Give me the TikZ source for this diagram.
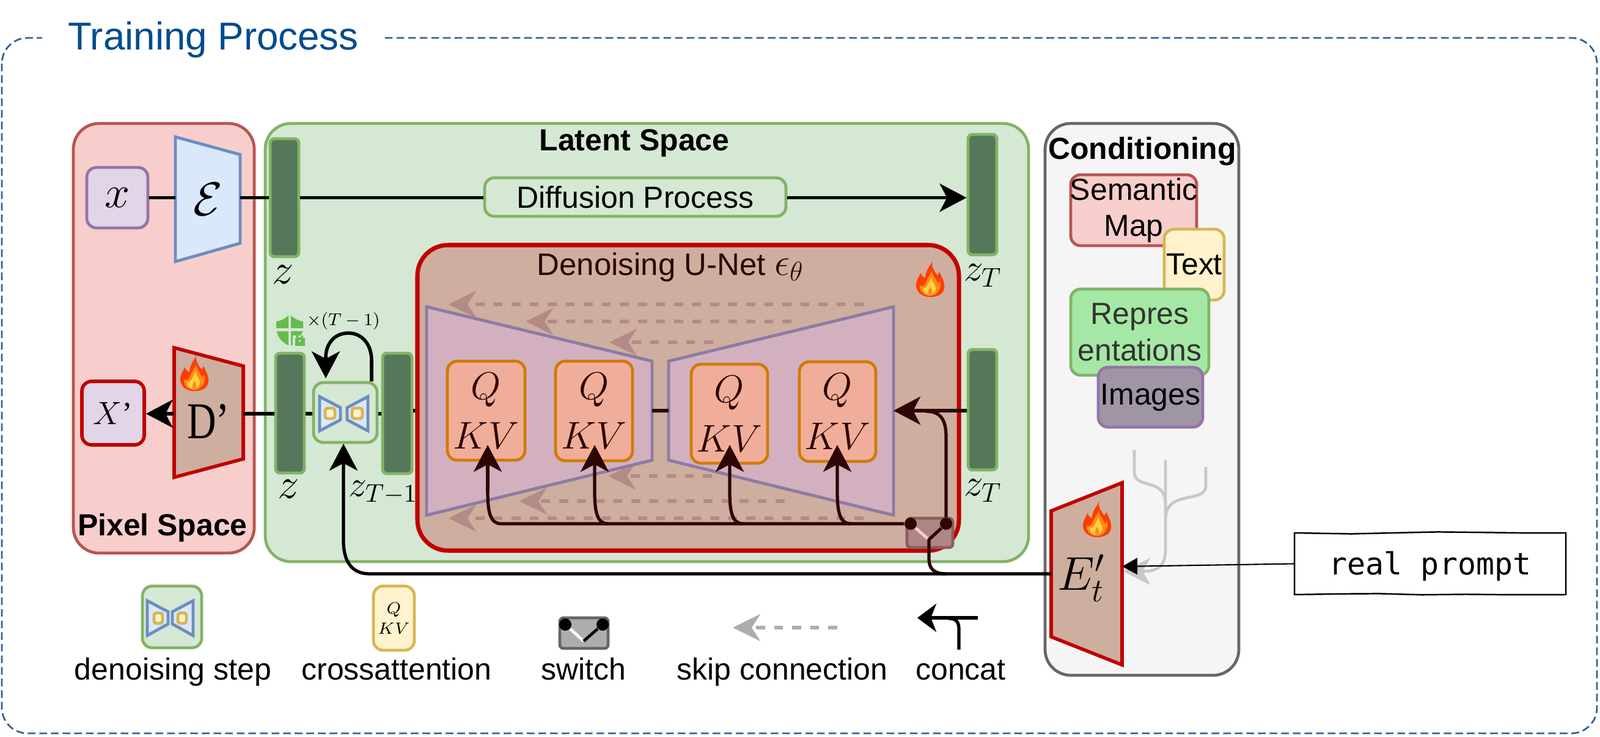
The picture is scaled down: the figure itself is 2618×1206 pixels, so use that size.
\documentclass[tikz,border=0pt]{standalone}
\usepackage{fix-cm}
\usepackage[no-math]{fontspec}
\setmainfont{Liberation Sans}
\newfontfamily\seriffont{Liberation Serif}
\newfontfamily\promptfont{DejaVu Sans Mono}
\usetikzlibrary{arrows.meta,positioning,calc,fit,decorations.pathmorphing}
\definecolor{framecol}{HTML}{2F6299}
\definecolor{titlecol}{HTML}{004C8C}
\definecolor{pixfill}{HTML}{F8CECC}
\definecolor{pixline}{HTML}{B85450}
\definecolor{latfill}{HTML}{D5E8D4}
\definecolor{latline}{HTML}{82B366}
\definecolor{barfill}{HTML}{56785A}
\definecolor{hotline}{HTML}{C00000}
\definecolor{hotfill}{HTML}{CDAE9F}
\definecolor{encfill}{HTML}{DAE8FC}
\definecolor{encline}{HTML}{6C8EBF}
\definecolor{purfill}{HTML}{E1D5E7}
\definecolor{purline}{HTML}{9673A6}
\definecolor{trapfill}{HTML}{D2B0BF}
\definecolor{trapline}{HTML}{8C7BA3}
\definecolor{qkvfill}{HTML}{F0AE9A}
\definecolor{qkvline}{HTML}{D07A00}
\definecolor{yelfill}{HTML}{FFF2CC}
\definecolor{yelline}{HTML}{D6B656}
\definecolor{skipcol}{HTML}{B48A88}
\definecolor{darkbus}{HTML}{2E0505}
\definecolor{swfill}{HTML}{B08585}
\definecolor{swline}{HTML}{8A5E5E}
\definecolor{swpale}{HTML}{F3CFCF}
\definecolor{condfill}{HTML}{F5F5F5}
\definecolor{condline}{HTML}{666666}
\definecolor{repfill}{HTML}{A5E8A5}
\definecolor{imgfill}{HTML}{A095A5}
\definecolor{shieldcol}{HTML}{66BB50}
\definecolor{graycol}{HTML}{C8C8C8}
\definecolor{skipgray}{HTML}{ADADAD}
\definecolor{flameout}{HTML}{FF3D00}
\definecolor{flamemid}{HTML}{FF8A1E}
\definecolor{flamein}{HTML}{FFD23F}
\newcommand{\fsz}[1]{\fontsize{#1}{17}\selectfont}
\tikzset{
	panel/.style={draw,line width=1.35pt,rounded corners=0.42cm,inner sep=0pt},
	tile/.style={draw,line width=1.35pt,rounded corners=0.16cm,inner sep=0pt},
	latentbar/.style={draw=latline,fill=barfill,line width=1.4pt,rounded corners=0.07cm,inner sep=0pt},
	qkvbox/.style={tile,draw=qkvline,fill=qkvfill},
	qkvtxt/.style={align=center,text=darkbus,font=\fontsize{18}{23}\selectfont},
	flow/.style={line width=1.5pt},
	bigtip/.style={-{Stealth[length=4.4mm,width=4.6mm,inset=1.2mm]}},
	bus/.style={line width=1.5pt,color=darkbus},
	skiparrow/.style={line width=1.6pt,color=skipcol,dash pattern=on 4.2pt off 4.2pt,-{Stealth[length=4.5mm,width=4.4mm,inset=1.4mm]}},
	swdot/.style={circle,fill,inner sep=0pt,minimum size=0.2cm},
	lbl/.style={font=\fsz{14.2},anchor=base},
	head/.style={font=\fsz{14.2}\bfseries},
	plain/.style={font=\fsz{14.2},align=center},
	fire/.pic={
		\fill[flameout] (0,29) .. controls (-16,29) and (-24,18) .. (-23,8) .. controls (-22,0) and (-18,-4) .. (-16,-10) .. controls (-13,-5) and (-11,-3) .. (-8,-2) .. controls (-8,-14) and (0,-22) .. (3,-29) .. controls (2,-18) and (8,-12) .. (12,-6) .. controls (13,-8) and (14,-10) .. (15,-12) .. controls (20,-2) and (24,6) .. (23,14) .. controls (22,24) and (12,29) .. (0,29) -- cycle;
		\fill[flamemid] (0,27) .. controls (-11,27) and (-18,19) .. (-17,10) .. controls (-13,13) and (-10,10) .. (-7,5) .. controls (-5,-2) and (0,-8) .. (3,-14) .. controls (4,-6) and (10,0) .. (13,7) .. controls (15,2) and (16,2) .. (17,4) .. controls (19,14) and (12,27) .. (0,27) -- cycle;
		\fill[flamein] (-1,25) .. controls (-8,25) and (-13,20) .. (-11,13) .. controls (-8,15) and (-5,12) .. (-3,7) .. controls (-1,3) and (1,0) .. (2,-3) .. controls (3,4) and (8,8) .. (9,14) .. controls (10,20) and (5,25) .. (-1,25) -- cycle;
		\fill[flamemid] (0,25) .. controls (-5,25) and (-4,19) .. (0,12) .. controls (4,19) and (5,25) .. (0,25) -- cycle;
	},
}
\begin{document}
\begin{tikzpicture}[x=0.01cm,y=-0.01cm]
	\useasboundingbox (0,0) rectangle (2618,1206);
	
	% outer frame
	\draw[framecol,line width=0.8pt,dash pattern=on 3.6pt off 1.8pt,rounded corners=0.42cm] (3,62) rectangle (2613,1200);
	\node[fill=white,minimum width=5.6cm,minimum height=0.9cm,inner sep=0pt] (titlebg) at (349,62) {};
	\node[text=titlecol,font=\fsz{18.1}] (title) at (349,65) {Training Process};
	
	% spaces
	\node[panel,draw=pixline,fill=pixfill,fit={(120,202)(416,905)}] (pixel) {};
	\node[panel,draw=latline,fill=latfill,fit={(434,202)(1683,919)}] (latent) {};
	\node[panel,draw=condline,fill=condfill,fit={(1710,202)(2027,1105)}] (cond) {};
	\node[head] (pixeltxt) at (266,864) {Pixel Space};
	\node[head] (latenttxt) at (1038,234) {Latent Space};
	\node[head] (condtxt) at (1869,248) {Conditioning};
	
	% encoder row
	\node[tile,draw=purline,fill=purfill,fit={(142,274)(242,373)}] (xin) {};
	\node[font=\fsz{21}] (xtxt) at (xin) {$x$};
	\filldraw[draw=encline,fill=encfill,line width=1.4pt] (287,224)--(393,253)--(393,398)--(287,428)--cycle;
	\node[font=\fsz{22}] (enc) at (340,326) {$\mathcal{E}$};
	\coordinate (encl) at (287,323.5);
	\coordinate (encr) at (393,323.5);
	\node[latentbar,fit={(442,227)(489,420)}] (ztop) {};
	\node[font=\fsz{20}] (ztoptxt) at (463,449) {$z$};
	\node[tile,draw=latline,fill=latfill,fit={(793,291)(1286,354)}] (diff) {};
	\node[plain] (difftxt) at (diff) {Diffusion Process};
	\node[latentbar,fit={(1584,220)(1631,417)}] (ztend) {};
	\node[font=\fsz{18}] (ztendtxt) at (1608,451) {$z_T$};
	\draw[flow] (xin.east |- encl) -- (encl);
	\draw[flow] (encr) -- (ztop.west |- encr);
	\draw[flow] (ztop.east |- encr) -- (diff.west |- encr);
	\draw[flow,bigtip] (diff.east |- encr) -- (ztend.west |- encr);
	
	% decoder row
	\node[tile,draw=hotline,line width=1.6pt,fill=purfill,fit={(134,624)(236,728)}] (xout) {};
	\node[font=\fsz{15}] (xouttxt) at (xout) {$X$\seriffont ’};
	\filldraw[draw=hotline,fill=hotfill,line width=1.6pt] (285,569)--(398,599)--(398,751)--(285,781)--cycle;
	\node[font=\fsz{24},inner sep=0pt] (dec) at (341,690) {\seriffont\scalebox{0.78}[1]{D’}};
	\pic at (318,611) {fire};
	\coordinate (decl) at (285,677);
	\coordinate (decr) at (398,677);
	\node[latentbar,fit={(451,578)(498,774)}] (zlow) {};
	\node[font=\fsz{20}] (zlowtxt) at (472,800) {$z$};
	\node[tile,draw=latline,fill=latfill,fit={(513,626)(617,724)}] (step) {};
	\node[latentbar,fit={(626,578)(674,775)}] (zprev) {};
	\node[font=\fsz{17}] (zprevtxt) at (627,806) {$z_{T-1}$};
	\filldraw[draw=encline,fill=encfill,line width=1.4pt] (523,649)--(557,667)--(557,687)--(523,705)--cycle;
	\filldraw[draw=encline,fill=encfill,line width=1.4pt] (602,649)--(568,667)--(568,687)--(602,705)--cycle;
	\filldraw[draw=yelline,fill=yelfill,line width=1.4pt,rounded corners=0.04cm] (532,668) rectangle (548,685);
	\filldraw[draw=yelline,fill=yelfill,line width=1.4pt,rounded corners=0.04cm] (576,668) rectangle (593,685);
	\draw[flow,bigtip] (decl) -- (xout.east |- decl);
	\draw[flow] (decr) -- (zlow.west |- decr);
	\draw[flow] (zlow.east |- decr) -- (step.west |- decr);
	\draw[flow] (step.east |- decr) -- (zprev.west |- decr);
	\coordinate (loopa) at (608,624);
	\coordinate (loopb) at (533,619);
	\draw[flow,line width=1.6pt,bigtip] (loopa) -- (608,590) .. controls (608,563) and (592,545) .. (570,545) .. controls (547,545) and (533,563) .. (533,585) -- (loopb);
	
	% shield with lock
	\fill[shieldcol] (452,526) .. controls (460,525) and (467,521) .. (472,516) -- (472,537) -- (452,537) -- cycle;
	\fill[shieldcol] (476,516) .. controls (481,521) and (488,525) .. (496,526) -- (496,537) -- (476,537) -- cycle;
	\fill[shieldcol] (453,542) -- (472,542) -- (472,565) .. controls (462,561) and (455,553) .. (453,542) -- cycle;
	\fill[shieldcol] (476,542) -- (496,542) -- (482,565) -- (476,565) -- cycle;
	\draw[latfill,line width=2.4pt] (483,553) rectangle (498,565);
	\filldraw[shieldcol,line width=0pt] (483,553) rectangle (498,565);
	\draw[shieldcol,line width=0.8pt] (486,553) -- (486,549) arc[start angle=180,end angle=0,x radius=4.5,y radius=5];
	\fill[latfill] (490.5,558) circle (1.8);
	\node[font=\fsz{8}] (looptxt) at (562,525) {$\times(T-1)$};
	
	% U-Net
	\coordinate (unetin) at (698,672);
	\draw[flow] (zprev.east |- unetin) -- (unetin);
	\node[panel,draw=hotline,fill=hotfill,line width=2pt,rounded corners=0.5cm,fit={(683,401)(1569,901)}] (unet) {};
	\node[font=\fsz{14.5},text=darkbus] (unettxt) at (1097,437) {Denoising U-Net {\fsz{18}$\epsilon_\theta$}};
	\pic at (1522,457) {fire};
	\foreach \n/\xa/\xb/\ya in {ska/734/1413/498,skb/860/1295/526,skc/997/1167/560,skd/995/1165/779,ske/850/1284/820,skf/734/1413/848}{
		\coordinate (\n t) at (\xa,\ya);
		\coordinate (\n s) at (\xb,\ya);
		\draw[skiparrow] (\n s) -- (\n t);
	}
	\filldraw[draw=trapline,fill=trapfill,line width=1.4pt] (698,502)--(1067,591)--(1067,753)--(698,843)--cycle;
	\filldraw[draw=trapline,fill=trapfill,line width=1.4pt] (1462,502)--(1094,591)--(1094,753)--(1462,843)--cycle;
	\coordinate (trapa) at (1067,672);
	\coordinate (trapb) at (1094,672);
	\coordinate (trapc) at (1462,672);
	\draw[bus] (trapa) -- (trapb);
	\node[qkvbox,fit={(732,591)(859,753)}] (qkva) {};
	\node[qkvbox,fit={(909,591)(1035,754)}] (qkvb) {};
	\node[qkvbox,fit={(1131,596)(1256,758)}] (qkvc) {};
	\node[qkvbox,fit={(1308,592)(1433,755)}] (qkvd) {};
	\foreach \n in {a,b,c,d}{
		\node[qkvtxt] (qkv\n txt) at (qkv\n) {$Q$\\$KV$};
	}
	
	% lower right bar and switch
	\node[latentbar,fit={(1584,572)(1631,769)}] (ztin) {};
	\node[font=\fsz{18}] (ztintxt) at (1608,803) {$z_T$};
	\node[draw=swline,fill=swfill,line width=1.35pt,rounded corners=0.06cm,inner sep=0pt,fit={(1484,848)(1559,896)}] (sw) {};
	\node[swdot,darkbus] (swa) at (1490,857) {};
	\node[swdot,darkbus] (swb) at (1548,857) {};
	\coordinate (swc) at (1520,883);
	\draw[swpale,line width=1.35pt] (swa) -- (swc);
	\draw[bus,bigtip] (ztin.west |- trapc) -- (trapc);
	\draw[bus] (swb) -- (1548,715) .. controls (1548,688) and (1540,673) .. (1515,673);
	\draw[bus] (swa) -- (820,857) .. controls (803,857) and (798,840) .. (798,805);
	\coordinate (tipa) at (798,728);
	\coordinate (tipb) at (973,728);
	\coordinate (tipc) at (1194,728);
	\coordinate (tipd) at (1370,728);
	\draw[bus,bigtip] (798,806) -- (tipa);
	\foreach \n/\x in {b/973,c/1194,d/1370}{
		\draw[bus,bigtip] (\x+22,857) .. controls (\x+5,857) and (\x,840) .. (\x,805) -- (tip\n);
	}
	
	% conditioning
	\node[tile,draw=pixline,fill=pixfill,fit={(1752,286)(1958,402)}] (semmap) {};
	\node[plain] (semmaptxt) at (semmap) {Semantic\\Map};
	\node[tile,draw=yelline,fill=yelfill,fit={(1905,375)(2003,491)}] (txtin) {};
	\node[plain] (txtintxt) at (txtin) {Text};
	\node[tile,draw=latline,fill=repfill,fit={(1752,473)(1978,614)}] (repr) {};
	\node[plain,text=black!80] (reprtxt) at (repr) {Repres\\entations};
	\node[tile,draw=purline,fill=imgfill,fit={(1797,601)(1968,699)}] (imgin) {};
	\node[plain] (imgintxt) at (imgin) {Images};
	\coordinate (graya) at (1856,736);
	\coordinate (grayb) at (1907,753);
	\coordinate (grayc) at (1973,764);
	\coordinate (grayd) at (1838,935);
	\draw[graycol,line width=1.35pt] (graya) -- (1856,772) .. controls (1856,802) and (1907,780) .. (1907,825);
	\draw[graycol,line width=1.35pt] (grayc) -- (1973,795) .. controls (1973,825) and (1907,800) .. (1907,850);
	\draw[graycol,line width=1.35pt,-{Stealth[length=4.4mm,width=4.4mm,inset=1.2mm]}] (grayb) -- (1907,900) .. controls (1907,925) and (1895,935) .. (1870,935) -- (grayd);
	\filldraw[draw=hotline,fill=hotfill,line width=1.6pt] (1720,836)--(1836,790)--(1836,1088)--(1720,1042)--cycle;
	\node[font=\fsz{22}] (ettxt) at (1769,946) {$E'_t$};
	\pic at (1795,850) {fire};
	\coordinate (etl) at (1720,939);
	\coordinate (etr) at (1836,927);
	\node[draw,line width=0.7pt,decorate,decoration={random steps,segment length=0.7cm,amplitude=0.6pt},fit={(2118,872)(2562,973)},inner sep=0pt] (prompt) {};
	\node[font=\promptfont\fsz{14.2}] (prompttxt) at (2340,927) {real prompt};
	\draw[line width=0.6pt,-{Stealth[length=2.5mm,width=2.7mm,inset=0pt]}] (prompt.west) -- (etr);
	
	% switch and step inputs
	\draw[bus] (swb) -- (swc) -- (1520,915) .. controls (1520,930) and (1528,939) .. (1548,939);
	\coordinate (stepin) at (562,726);
	\draw[flow,bigtip] (etl) -- (605,939) .. controls (575,939) and (562,918) .. (562,885) -- (stepin);
	
	% legend
	\node[tile,draw=latline,fill=latfill,fit={(233,959)(330,1060)}] (lgstep) {};
	\filldraw[draw=encline,fill=encfill,line width=1.4pt] (241,983)--(275,1001)--(275,1021)--(241,1040)--cycle;
	\filldraw[draw=encline,fill=encfill,line width=1.4pt] (316,983)--(282,1001)--(282,1021)--(316,1040)--cycle;
	\filldraw[draw=yelline,fill=yelfill,line width=1.4pt,rounded corners=0.04cm] (252,1003) rectangle (266,1020);
	\filldraw[draw=yelline,fill=yelfill,line width=1.4pt,rounded corners=0.04cm] (291,1003) rectangle (305,1020);
	\node[tile,draw=yelline,fill=yelfill,fit={(611,959)(678,1064)}] (lgqkv) {};
	\node[align=center,font=\fontsize{7.6}{9.4}\selectfont] (lgqkvtxt) at (lgqkv) {$Q$\\$KV$};
	\node[draw=condline,fill=skipgray,line width=1.35pt,rounded corners=0.06cm,inner sep=0pt,fit={(916,1011)(995,1061)}] (lgsw) {};
	\node[swdot,black] (lgswa) at (925,1022) {};
	\node[swdot,black] (lgswb) at (986,1022) {};
	\coordinate (lgswc) at (955,1049);
	\draw[white,line width=1.35pt] (lgswa) -- (lgswc);
	\draw[line width=1.35pt] (lgswb) -- (lgswc);
	\coordinate (lgskipa) at (1370,1027);
	\coordinate (lgskipb) at (1199,1027);
	\draw[skiparrow,color=skipgray] (lgskipa) -- (lgskipb);
	\coordinate (lgcatb) at (1600,1011);
	\coordinate (lgcata) at (1501,1011);
	\coordinate (lgcatc) at (1569,1063);
	\draw[flow,-{Stealth[length=3.1mm,width=4.6mm,inset=0.9mm]}] (lgcatb) -- (lgcata);
	\draw[flow] (lgcatc) -- (1569,1030) .. controls (1569,1018) and (1565,1012) .. (1552,1012);
	\node[lbl] (lgsteptxt) at (283,1112) {denoising step};
	\node[lbl] (lgqkvlbl) at (649,1112) {crossattention};
	\node[lbl] (lgswtxt) at (955,1112) {switch};
	\node[lbl] (lgskiptxt) at (1280,1112) {skip connection};
	\node[lbl] (lgcattxt) at (1572,1112) {concat};
\end{tikzpicture}
\end{document}
